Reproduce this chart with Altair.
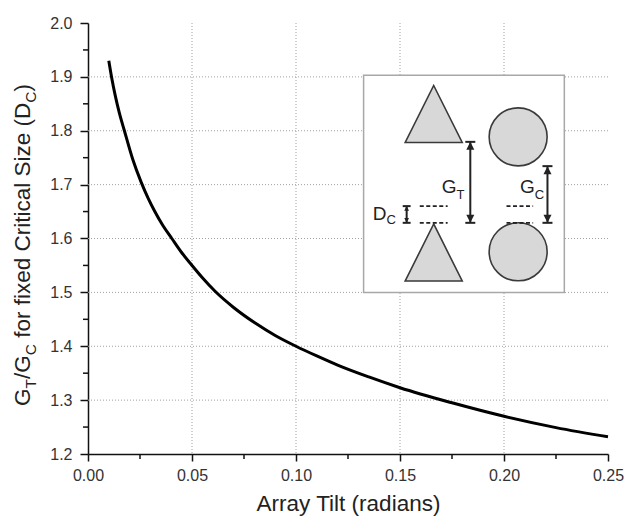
import altair as alt
import pandas as pd

# ---------------- data ----------------
tilt = [0.0100, 0.0115, 0.0130, 0.0150, 0.0175, 0.0215, 0.0255, 0.0290, 0.0320,
        0.0360, 0.0403, 0.0450, 0.0500, 0.0550, 0.0611, 0.0700, 0.0800, 0.0900,
        0.1000, 0.1100, 0.1200, 0.1350, 0.1500, 0.1750, 0.2000, 0.2250, 0.2500]
ratio = [1.930, 1.896, 1.867, 1.834, 1.800, 1.747, 1.705, 1.674, 1.651,
         1.624, 1.600, 1.574, 1.550, 1.527, 1.502, 1.472, 1.444, 1.420,
         1.400, 1.382, 1.365, 1.343, 1.323, 1.295, 1.270, 1.249, 1.232]

x_ticks = [0.0, 0.05, 0.10, 0.15, 0.20, 0.25]
y_ticks = [1.2, 1.3, 1.4, 1.5, 1.6, 1.7, 1.8, 1.9, 2.0]
x_minor = [0.025, 0.075, 0.125, 0.175, 0.225]
y_minor = [1.25, 1.35, 1.45, 1.55, 1.65, 1.75, 1.85, 1.95]
x_grid = [0.05, 0.10, 0.15, 0.20]
y_grid = [1.3, 1.4, 1.5, 1.6, 1.7, 1.8, 1.9]

# inset diagram (in data units of the main axes)
box_x = [0.1325, 0.2290]
box_y = [1.500, 1.903]
tri_x = [0.1662, 0.1662]
tri_y = [1.8311, 1.5741]
circ_x = [0.2068, 0.2068]
circ_y = [1.7887, 1.5753]
arr_x = [0.1838, 0.2209, 0.1532]
arr_top = [1.7794, 1.7343, 1.6601]
arr_bot = [1.6291, 1.6291, 1.6291]
arr_cap = [0.0024, 0.0024, 0.0019]
arr_head = [256, 256, 90]
dash_x0 = [0.1595, 0.2012]
dash_x1 = [0.1729, 0.2140]
dash_y = [1.6601, 1.6291]
lab_main = ["G", "G", "D"]
lab_sub = ["T", "C", "C"]
lab_x = [0.1772, 0.2148, 0.1435]
lab_y = [1.6837, 1.6837, 1.6341]
lab_sub_y = [1.6730, 1.6730, 1.6267]

W, H = 520, 431
FONT = "Liberation Sans"
XS = alt.Scale(domain=[0, 0.25], nice=False, zero=False)
YS = alt.Scale(domain=[1.2, 2.0], nice=False, zero=False)

AXX = alt.Axis(
    values=x_ticks, format=".2f", title="Array Tilt (radians)",
    grid=False, domainColor="#111", domainWidth=1.5, tickColor="#111",
    tickWidth=1.5, tickSize=7, labelFont=FONT, labelFontSize=16,
    labelColor="#333", labelPadding=6, titleFont=FONT, titleFontSize=22.5,
    titleFontWeight="normal", titleColor="#222", titlePadding=9,
    labelFlush=False)
AXY = alt.Axis(
    values=y_ticks, format=".1f", title="", grid=False,
    domainColor="#111", domainWidth=1.5, tickColor="#111", tickWidth=1.5,
    tickSize=8, labelFont=FONT, labelFontSize=16, labelColor="#333",
    labelPadding=8, labelFlush=False)


def X(f="x"):
    return alt.X(f"{f}:Q", scale=XS, axis=AXX)


def Y(f="y"):
    return alt.Y(f"{f}:Q", scale=YS, axis=AXY)


# ---------------- grid ----------------
vgrid = alt.Chart(pd.DataFrame({"x": x_grid})).mark_rule(
    color="#a0a0a0", strokeWidth=1, strokeDash=[1, 2]).encode(x=X())
hgrid = alt.Chart(pd.DataFrame({"y": y_grid})).mark_rule(
    color="#a0a0a0", strokeWidth=1, strokeDash=[1, 2]).encode(y=Y())

# ---------------- curve ----------------
curve = alt.Chart(pd.DataFrame({"x": tilt, "y": ratio})).mark_line(
    color="black", strokeWidth=3, interpolate="monotone").encode(x=X(), y=Y())

# ---------------- minor ticks ----------------
xminor = alt.Chart(pd.DataFrame({"x": x_minor})).mark_rule(
    color="#111", strokeWidth=1.5).encode(x=X(), y=alt.value(H), y2=alt.value(H + 5))
yminor = alt.Chart(pd.DataFrame({"y": y_minor})).mark_rule(
    color="#111", strokeWidth=1.5).encode(y=Y(), x=alt.value(0), x2=alt.value(-5))

# ---------------- y title with subscripts ----------------
widths = {"G": 0.778, "T": 0.611, "C": 0.722, "/G": 1.056,
          "for fixed Critical Size (D": 10.446, ")": 0.333}
space = 0.278
pieces = [("G", False, 0), ("T", True, 0), ("/G", False, 0), ("C", True, space),
          ("for fixed Critical Size (D", False, 0), ("C", True, 0), (")", False, 0)]
MAIN, SUB = 22.5, 15.5
total = sum(widths[t] * (SUB if s else MAIN) + g * MAIN for t, s, g in pieces)
pos = 222 + total / 2
rows = []
for t, s, g in pieces:
    rows.append({"t": t, "py": pos, "px": -52 if s else -58,
                 "fs": SUB if s else MAIN})
    pos -= widths[t] * (SUB if s else MAIN) + g * MAIN
ytitle_df = pd.DataFrame(rows)
ytitle_main = alt.Chart(ytitle_df[ytitle_df.fs == MAIN]).mark_text(
    angle=270, align="left", baseline="alphabetic", font=FONT,
    fontSize=MAIN, color="#222").encode(
    x=alt.X("px:Q", scale=None), y=alt.Y("py:Q", scale=None), text="t:N")
ytitle_sub = alt.Chart(ytitle_df[ytitle_df.fs == SUB]).mark_text(
    angle=270, align="left", baseline="alphabetic", font=FONT,
    fontSize=SUB, color="#222").encode(
    x=alt.X("px:Q", scale=None), y=alt.Y("py:Q", scale=None), text="t:N")

# ---------------- inset ----------------
box = alt.Chart(pd.DataFrame({"x": [box_x[0]], "x2": [box_x[1]],
                              "y": [box_y[0]], "y2": [box_y[1]]})).mark_rect(
    fill="white", stroke="#a8a8a8", strokeWidth=1.5).encode(
    x=X(), x2="x2:Q", y=Y(), y2="y2:Q")

tris = alt.Chart(pd.DataFrame({"x": tri_x, "y": tri_y})).mark_point(
    shape="M0,-1L1,1L-1,1Z", size=57 ** 2, filled=True, fill="#d8d8d8",
    stroke="#3a3a3a", strokeWidth=1.6, opacity=1).encode(x=X(), y=Y())
circs = alt.Chart(pd.DataFrame({"x": circ_x, "y": circ_y})).mark_point(
    shape="circle", size=58 ** 2, filled=True, fill="#d8d8d8",
    stroke="#3a3a3a", strokeWidth=1.6, opacity=1).encode(x=X(), y=Y())

arr_df = pd.DataFrame({"x": arr_x, "top": arr_top, "bot": arr_bot,
                       "xl": [a - c for a, c in zip(arr_x, arr_cap)],
                       "xr": [a + c for a, c in zip(arr_x, arr_cap)],
                       "hs": arr_head})
shafts = alt.Chart(arr_df).mark_rule(color="#222", strokeWidth=2).encode(
    x=X(), y=Y("top"), y2="bot:Q")
cap_top = alt.Chart(arr_df).mark_rule(color="#222", strokeWidth=2).encode(
    x=X("xl"), x2="xr:Q", y=Y("top"))
cap_bot = alt.Chart(arr_df).mark_rule(color="#222", strokeWidth=2).encode(
    x=X("xl"), x2="xr:Q", y=Y("bot"))
head_up = alt.Chart(arr_df).mark_point(
    shape="M0,0L-0.5,1L0.5,1Z", filled=True, color="#222", opacity=1).encode(
    x=X(), y=Y("top"), size=alt.Size("hs:Q", scale=None, legend=None))
head_dn = alt.Chart(arr_df).mark_point(
    shape="M0,0L-0.5,-1L0.5,-1Z", filled=True, color="#222", opacity=1).encode(
    x=X(), y=Y("bot"), size=alt.Size("hs:Q", scale=None, legend=None))

dash_rows = [{"x": a, "x2": b, "y": yy} for a, b in zip(dash_x0, dash_x1) for yy in dash_y]
dashes = alt.Chart(pd.DataFrame(dash_rows)).mark_rule(
    color="#222", strokeWidth=1.8, strokeDash=[4, 2.5]).encode(
    x=X(), x2="x2:Q", y=Y())

lab_df = pd.DataFrame({"m": lab_main, "s": lab_sub, "x": lab_x,
                       "y": lab_y, "ys": lab_sub_y})
lab_m = alt.Chart(lab_df).mark_text(
    align="right", baseline="alphabetic", font=FONT, fontSize=19,
    color="#222").encode(x=X(), y=Y(), text="m:N")
lab_s = alt.Chart(lab_df).mark_text(
    align="left", baseline="alphabetic", font=FONT, fontSize=13,
    color="#222").encode(x=X(), y=Y("ys"), text="s:N")

chart = alt.layer(
    vgrid, hgrid, curve, xminor, yminor, ytitle_main, ytitle_sub,
    box, tris, circs, shafts, cap_top, cap_bot, head_up, head_dn, dashes,
    lab_m, lab_s,
).properties(
    width=W, height=H,
    autosize=alt.AutoSizeParams(type="none"),
    padding={"left": 80, "top": 15, "right": 20, "bottom": 62},
).configure_view(stroke=None)

chart.save("out.html", embed_options={"renderer": "svg", "actions": False})
